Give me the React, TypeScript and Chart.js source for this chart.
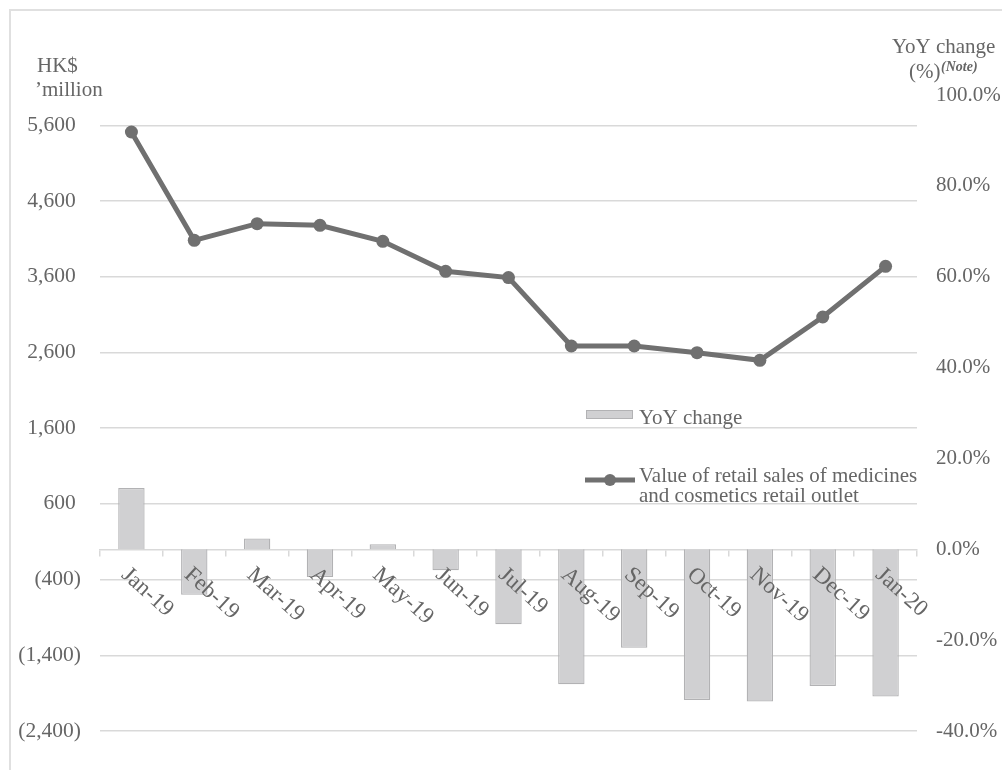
import { useEffect, useRef } from "react";
import { Chart, registerables } from "chart.js";

Chart.register(...registerables);

// Monthly categories
const months = [
  "Jan-19", "Feb-19", "Mar-19", "Apr-19", "May-19", "Jun-19", "Jul-19",
  "Aug-19", "Sep-19", "Oct-19", "Nov-19", "Dec-19", "Jan-20",
];

// Value of retail sales of medicines and cosmetics (HK$ million)
const salesValue = [5511, 4081, 4301, 4279, 4068, 3671, 3588, 2685, 2685, 2597, 2496, 3068, 3737];

// Year-on-year change (%)
const yoyChange = [13.5, -10.0, 2.4, -6.1, 1.1, -4.6, -16.5, -29.7, -21.7, -33.2, -33.5, -30.1, -32.4];

// Axis ticks
const leftTicks = [-2400, -1400, -400, 600, 1600, 2600, 3600, 4600, 5600];
const rightTicks = [-40, -20, 0, 20, 40, 60, 80, 100];

// Text
const leftTitle = ["HK$", "\u2019million"];
const rightTitle = ["YoY change", "(%)", "(Note)"];
const barLegend = "YoY change";
const lineLegend = ["Value of retail sales of medicines", "and cosmetics retail outlet"];

const SERIF = '"Liberation Serif", "Times New Roman", serif';
const TEXT = "#666666";
const GRID = "#d9d9d9";
const LINE = "#707070";
const BAR_FILL = "#d0d0d2";
const BAR_EDGE = "#b2b2b4";

const fmtMoney = (v: number) =>
  v < 0 ? `(${Math.abs(v).toLocaleString("en-US")})` : `${v.toLocaleString("en-US")} `;

const overlay = {
  id: "overlay",
  afterDraw(chart: any) {
    const ctx = chart.ctx as CanvasRenderingContext2D;
    const xs = chart.scales.x;
    const zero = chart.scales.y.getPixelForValue(0);
    ctx.save();
    ctx.fillStyle = TEXT;

    // rotated month labels below the zero line
    ctx.font = `23px ${SERIF}`;
    ctx.textAlign = "left";
    ctx.textBaseline = "alphabetic";
    months.forEach((m, i) => {
      const cx = xs.getPixelForValue(i);
      ctx.save();
      ctx.translate(cx - 11, zero + 27);
      ctx.rotate((42 * Math.PI) / 180);
      ctx.fillText(m, 0, 0);
      ctx.restore();
    });

    // axis titles
    ctx.font = `21px ${SERIF}`;
    ctx.fillText(leftTitle[0], 37, 72);
    ctx.fillText(leftTitle[1], 35, 96);
    ctx.fillText(rightTitle[0], 892, 53);
    ctx.fillText(rightTitle[1], 909, 78);
    ctx.font = `italic bold 14px ${SERIF}`;
    ctx.fillText(rightTitle[2], 941, 71);

    // legend: bars
    ctx.fillStyle = BAR_FILL;
    ctx.fillRect(586, 410, 47, 9);
    ctx.strokeStyle = BAR_EDGE;
    ctx.lineWidth = 1;
    ctx.strokeRect(586.5, 410.5, 46, 8);
    ctx.fillStyle = TEXT;
    ctx.font = `21px ${SERIF}`;
    ctx.fillText(barLegend, 639, 424);

    // legend: line
    ctx.strokeStyle = LINE;
    ctx.lineWidth = 5;
    ctx.beginPath();
    ctx.moveTo(585, 480);
    ctx.lineTo(635, 480);
    ctx.stroke();
    ctx.fillStyle = LINE;
    ctx.beginPath();
    ctx.arc(610, 480, 6, 0, Math.PI * 2);
    ctx.fill();
    ctx.fillStyle = TEXT;
    ctx.fillText(lineLegend[0], 639, 482);
    ctx.fillText(lineLegend[1], 639, 502);

    ctx.restore();
  },
};

export default function App() {
  const canvasRef = useRef<HTMLCanvasElement | null>(null);

  useEffect(() => {
    const canvas = canvasRef.current;
    if (!canvas) return;
    const chart = new Chart(canvas, {
      type: "bar",
      data: {
        labels: months,
        datasets: [
          {
            type: "line",
            label: lineLegend.join(" "),
            data: salesValue,
            yAxisID: "yL",
            borderColor: LINE,
            backgroundColor: LINE,
            borderWidth: 5,
            pointRadius: 6.5,
            pointBackgroundColor: LINE,
            pointBorderWidth: 0,
            tension: 0,
            order: 0,
          } as any,
          {
            type: "bar",
            label: barLegend,
            data: yoyChange,
            yAxisID: "y",
            backgroundColor: BAR_FILL,
            borderColor: BAR_EDGE,
            borderWidth: 1.3,
            barPercentage: 0.42,
            categoryPercentage: 1,
            order: 1,
          },
        ],
      },
      options: {
        responsive: false,
        devicePixelRatio: 1,
        animation: false,
        layout: { padding: { top: 95, bottom: 39, left: 0, right: 0 } },
        plugins: { legend: { display: false }, tooltip: { enabled: false } },
        scales: {
          x: {
            axis: "x",
            type: "category",
            position: { y: 0 } as any,
            offset: true,
            grid: {
              offset: true,
              drawOnChartArea: false,
              drawTicks: true,
              tickLength: 6,
              color: GRID,
              lineWidth: 1.5,
            },
            border: { display: true, color: GRID, width: 1.5 },
            ticks: { display: false },
          },
          yL: {
            axis: "y",
            type: "linear",
            position: "left",
            min: -2400,
            max: 6000,
            afterBuildTicks: (scale: any) => {
              scale.ticks = leftTicks.map((v) => ({ value: v }));
            },
            afterFit: (scale: any) => {
              scale.width = 100;
            },
            grid: { color: GRID, lineWidth: 1.5, drawTicks: false },
            border: { display: false },
            ticks: {
              padding: 19,
              color: TEXT,
              font: { family: SERIF, size: 21.5 },
              callback: (v: any) => fmtMoney(Number(v)),
            },
          },
          y: {
            axis: "y",
            type: "linear",
            position: "right",
            min: -40,
            max: 100,
            afterBuildTicks: (scale: any) => {
              scale.ticks = rightTicks.map((v) => ({ value: v }));
            },
            afterFit: (scale: any) => {
              scale.width = 85;
            },
            grid: { display: false, drawTicks: false },
            border: { display: false },
            ticks: {
              padding: 19,
              color: TEXT,
              font: { family: SERIF, size: 21 },
              callback: (v: any) => `${Number(v).toFixed(1)}%`,
            },
          },
        },
      },
      plugins: [overlay],
    });
    return () => chart.destroy();
  }, []);

  return (
    <div
      style={{
        position: "fixed",
        left: 0,
        top: 0,
        width: 1002,
        height: 770,
        overflow: "hidden",
        background: "#ffffff",
      }}
    >
      <div
        style={{
          position: "absolute",
          left: 9,
          top: 9,
          width: 1100,
          height: 900,
          border: "2px solid #e0e0e0",
        }}
      />
      <canvas
        ref={canvasRef}
        width={1002}
        height={770}
        style={{ position: "absolute", left: 0, top: 0 }}
      />
    </div>
  );
}
